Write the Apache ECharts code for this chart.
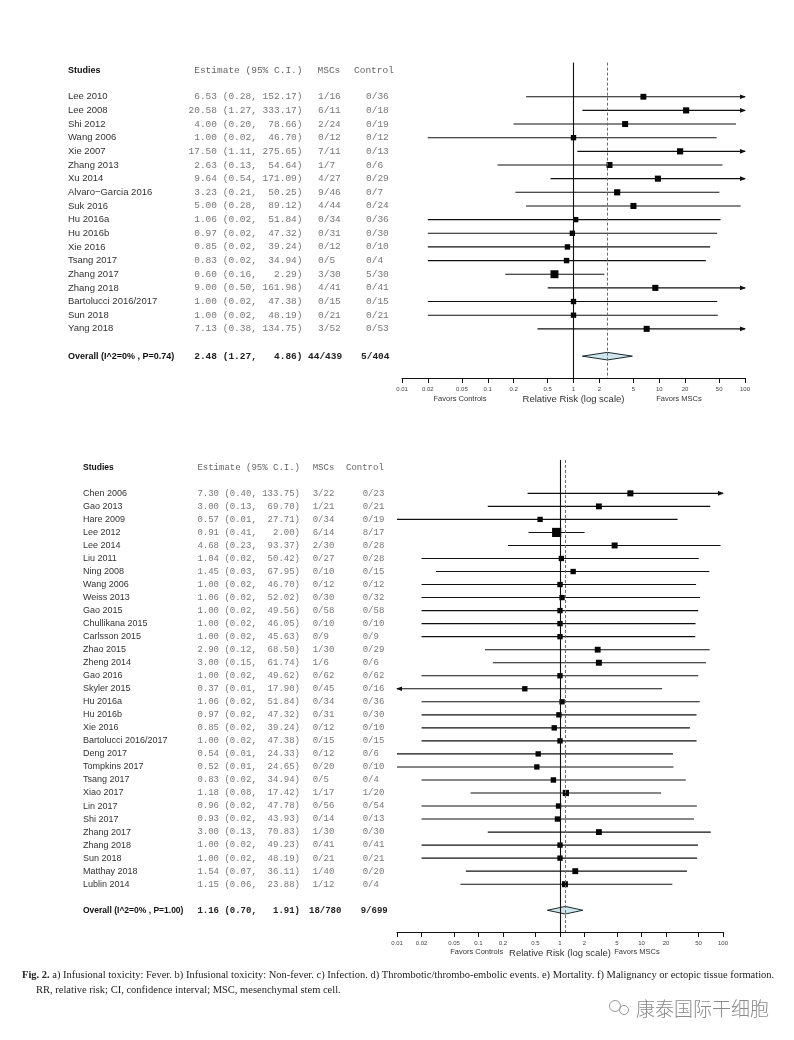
<!DOCTYPE html>
<html><head><meta charset="utf-8">
<script src="https://cdn.jsdelivr.net/npm/echarts@6/dist/echarts.min.js"></script>
<style>html,body{margin:0;padding:0;background:#fff}#c{width:794px;height:1040px}</style>
</head><body><div id="c"></div>
<script>
// ---------- axis ticks ----------
const tickValues = [0.01, 0.02, 0.05, 0.1, 0.2, 0.5, 1, 2, 5, 10, 20, 50, 100];
const tickLabels = ['0.01', '0.02', '0.05', '0.1', '0.2', '0.5', '1', '2', '5', '10', '20', '50', '100'];

// ---------- panel A (top) ----------
const studiesA = ['Lee 2010', 'Lee 2008', 'Shi 2012', 'Wang 2006', 'Xie 2007', 'Zhang 2013', 'Xu 2014', 'Alvaro\u2212Garcia 2016', 'Suk 2016', 'Hu 2016a', 'Hu 2016b', 'Xie 2016', 'Tsang 2017', 'Zhang 2017', 'Zhang 2018', 'Bartolucci 2016/2017', 'Sun 2018', 'Yang 2018'];
const estA = [6.53, 20.58, 4.00, 1.00, 17.50, 2.63, 9.64, 3.23, 5.00, 1.06, 0.97, 0.85, 0.83, 0.60, 9.00, 1.00, 1.00, 7.13];
const lowA = [0.28, 1.27, 0.20, 0.02, 1.11, 0.13, 0.54, 0.21, 0.28, 0.02, 0.02, 0.02, 0.02, 0.16, 0.50, 0.02, 0.02, 0.38];
const upA = [152.17, 333.17, 78.66, 46.70, 275.65, 54.64, 171.09, 50.25, 89.12, 51.84, 47.32, 39.24, 34.94, 2.29, 161.98, 47.38, 48.19, 134.75];
const mscA = ['1/16', '6/11', '2/24', '0/12', '7/11', '1/7', '4/27', '9/46', '4/44', '0/34', '0/31', '0/12', '0/5', '3/30', '4/41', '0/15', '0/21', '3/52'];
const ctrlA = ['0/36', '0/18', '0/19', '0/12', '0/13', '0/6', '0/29', '0/7', '0/24', '0/36', '0/30', '0/10', '0/4', '5/30', '0/41', '0/15', '0/21', '0/53'];
const overallA = { label: 'Overall (I^2=0% , P=0.74)', est: 2.48, low: 1.27, up: 4.86, msc: '44/439', ctrl: '5/404' };

// ---------- panel B (bottom) ----------
const studiesB = ['Chen 2006', 'Gao 2013', 'Hare 2009', 'Lee 2012', 'Lee 2014', 'Liu 2011', 'Ning 2008', 'Wang 2006', 'Weiss 2013', 'Gao 2015', 'Chullikana 2015', 'Carlsson 2015', 'Zhao 2015', 'Zheng 2014', 'Gao 2016', 'Skyler 2015', 'Hu 2016a', 'Hu 2016b', 'Xie 2016', 'Bartolucci 2016/2017', 'Deng 2017', 'Tompkins 2017', 'Tsang 2017', 'Xiao 2017', 'Lin 2017', 'Shi 2017', 'Zhang 2017', 'Zhang 2018', 'Sun 2018', 'Matthay 2018', 'Lublin 2014'];
const estB = [7.30, 3.00, 0.57, 0.91, 4.68, 1.04, 1.45, 1.00, 1.06, 1.00, 1.00, 1.00, 2.90, 3.00, 1.00, 0.37, 1.06, 0.97, 0.85, 1.00, 0.54, 0.52, 0.83, 1.18, 0.96, 0.93, 3.00, 1.00, 1.00, 1.54, 1.15];
const lowB = [0.40, 0.13, 0.01, 0.41, 0.23, 0.02, 0.03, 0.02, 0.02, 0.02, 0.02, 0.02, 0.12, 0.15, 0.02, 0.0076, 0.02, 0.02, 0.02, 0.02, 0.01, 0.01, 0.02, 0.08, 0.02, 0.02, 0.13, 0.02, 0.02, 0.07, 0.06];
const upB = [133.75, 69.70, 27.71, 2.00, 93.37, 50.42, 67.95, 46.70, 52.02, 49.56, 46.05, 45.63, 68.50, 61.74, 49.62, 17.90, 51.84, 47.32, 39.24, 47.38, 24.33, 24.65, 34.94, 17.42, 47.78, 43.93, 70.83, 49.23, 48.19, 36.11, 23.88];
const mscB = ['3/22', '1/21', '0/34', '6/14', '2/30', '0/27', '0/10', '0/12', '0/30', '0/58', '0/10', '0/9', '1/30', '1/6', '0/62', '0/45', '0/34', '0/31', '0/12', '0/15', '0/12', '0/20', '0/5', '1/17', '0/56', '0/14', '1/30', '0/41', '0/21', '1/40', '1/12'];
const ctrlB = ['0/23', '0/21', '0/19', '8/17', '0/28', '0/28', '0/15', '0/12', '0/32', '0/58', '0/10', '0/9', '0/29', '0/6', '0/62', '0/16', '0/36', '0/30', '0/10', '0/15', '0/6', '0/10', '0/4', '1/20', '0/54', '0/13', '0/30', '0/41', '0/21', '0/20', '0/4'];
const overallB = { label: 'Overall (I^2=0% , P=1.00)', est: 1.16, low: 0.70, up: 1.91, msc: '18/780', ctrl: '9/699' };

const headers = { studies: 'Studies', est: 'Estimate (95% C.I.)', msc: 'MSCs', ctrl: 'Control' };
const captionMain = ' a) Infusional toxicity: Fever. b) Infusional toxicity: Non-fever. c) Infection. d) Thrombotic/thrombo-embolic events. e) Mortality. f) Malignancy or ectopic tissue formation.';
const captionLine2 = 'RR, relative risk; CI, confidence interval; MSC, mesenchymal stem cell.';
const watermark = '康泰国际干细胞';

// ---------- helpers ----------
const LOG_MIN = -2, LOG_MAX = 2;
const lg = v => Math.log10(v);
function pad(s, n) { while (s.length < n) s = ' ' + s; return s; }
function fmtEst(e, l, u) { return pad(e.toFixed(2), 5) + ' (' + l.toFixed(2) + ', ' + pad(u.toFixed(2), 6) + ')'; }

const MONO = '"Liberation Mono", "DejaVu Sans Mono", monospace';
const SANS = '"Liberation Sans", Arial, sans-serif';
const SERIF = '"Liberation Serif", serif';

const panels = [
  { studies: studiesA, est: estA, low: lowA, up: upA, msc: mscA, ctrl: ctrlA, overall: overallA,
    grid: { left: 402, width: 343, top: 62.6, height: 315.4 }, yMin: -2.5, yMax: 20.6, hdrRow: -1.9, overallRow: 19,
    lay: { name: 68, estR: 302.5, msc: 318, mscO: 308, ctrl: 366, ctrlO: 361, hdrMsc: 317.5, hdrCtrl: 354, mono: 9.5, sans: 9.5 },
    favors: [460, 679, 399] },
  { studies: studiesB, est: estB, low: lowB, up: upB, msc: mscB, ctrl: ctrlB, overall: overallB,
    grid: { left: 397, width: 326, top: 460, height: 472 }, yMin: -2.56, yMax: 33.67, hdrRow: -2.0, overallRow: 32,
    lay: { name: 83, estR: 300, msc: 312.7, mscO: 309, ctrl: 362.7, ctrlO: 360.7, hdrMsc: 312.7, hdrCtrl: 346, mono: 9, sans: 9 },
    favors: [476.7, 637, 952] }
];

const tickLog = tickValues.map(lg);
function tickLabelOf(v) {
  let best = 0, bd = Infinity;
  tickLog.forEach((t, i) => { const d = Math.abs(t - v); if (d < bd) { bd = d; best = i; } });
  return tickLabels[best];
}

const grids = [], xAxes = [], yAxes = [], series = [], graphics = [];

panels.forEach((P, pi) => {
  grids.push(P.grid);
  xAxes.push({
    type: 'value', gridIndex: pi, min: LOG_MIN, max: LOG_MAX, position: 'bottom',
    name: 'Relative Risk (log scale)', nameLocation: 'middle', nameGap: 16,
    nameTextStyle: { fontFamily: SANS, fontSize: 9.5, color: '#333' },
    axisLine: { show: true, onZero: false, lineStyle: { color: '#111', width: 1 } },
    axisTick: { show: true, inside: false, length: 5, customValues: tickLog, lineStyle: { color: '#111' } },
    axisLabel: { show: true, customValues: tickLog, margin: 8, fontSize: 6, fontFamily: SANS, color: '#444', formatter: v => tickLabelOf(v), hideOverlap: false },
    splitLine: { show: false }
  });
  yAxes.push({ type: 'value', gridIndex: pi, min: P.yMin, max: P.yMax, inverse: true, show: false });

  // study CIs + squares
  const data = P.est.map((e, i) => [lg(e), i, lg(P.low[i]), lg(P.up[i])]);
  series.push({
    type: 'custom', xAxisIndex: pi, yAxisIndex: pi, clip: false, silent: true,
    encode: { x: [0, 2, 3], y: 1 },
    data,
    renderItem: (params, api) => {
      const e = api.value(0), y = api.value(1), l = api.value(2), u = api.value(3);
      const lc = Math.max(l, LOG_MIN), uc = Math.min(u, LOG_MAX);
      const a = api.coord([lc, y]), b = api.coord([uc, y]), c = api.coord([e, y]);
      const se = (u - l) * Math.LN10 / 3.92;
      const s = Math.max(4, 7 + 2.4 * Math.log(1 / se));
      const ch = [
        { type: 'line', shape: { x1: a[0], y1: a[1], x2: b[0], y2: b[1] }, style: { stroke: '#111', lineWidth: 1.1 } },
        { type: 'rect', shape: { x: c[0] - s / 2, y: c[1] - s / 2, width: s, height: s }, style: { fill: '#050505' } }
      ];
      if (u > LOG_MAX) ch.push({ type: 'polygon', shape: { points: [[b[0] + 1, b[1]], [b[0] - 5, b[1] - 2.3], [b[0] - 5, b[1] + 2.3]] }, style: { fill: '#111' } });
      if (l < LOG_MIN) ch.push({ type: 'polygon', shape: { points: [[a[0] - 1, a[1]], [a[0] + 5, a[1] - 2.3], [a[0] + 5, a[1] + 2.3]] }, style: { fill: '#111' } });
      return { type: 'group', children: ch };
    },
    markLine: {
      silent: true, symbol: 'none', label: { show: false }, animation: false,
      data: [
        { xAxis: 0, lineStyle: { color: '#111', width: 1.1, type: 'solid' } },
        { xAxis: lg(P.overall.est), lineStyle: { color: '#a3574c', width: 1, type: [3, 2] } }
      ]
    }
  });

  // overall diamond
  series.push({
    type: 'custom', xAxisIndex: pi, yAxisIndex: pi, clip: false, silent: true,
    encode: { x: [0, 2, 3], y: 1 },
    data: [[lg(P.overall.est), P.overallRow, lg(P.overall.low), lg(P.overall.up)]],
    renderItem: (params, api) => {
      const e = api.value(0), y = api.value(1), l = api.value(2), u = api.value(3);
      const a = api.coord([l, y]), b = api.coord([u, y]), c = api.coord([e, y]);
      const h = 3.8;
      return { type: 'polygon', shape: { points: [[a[0], a[1]], [c[0], c[1] - h], [b[0], b[1]], [c[0], c[1] + h]] },
        style: { fill: '#cfe6ec', stroke: '#1a2a2a', lineWidth: 1 } };
    }
  });

  // table text
  const L = P.lay;
  const rows = [{ kind: 'hdr', row: P.hdrRow }]
    .concat(P.studies.map((s, i) => ({ kind: 'study', row: i, i })))
    .concat([{ kind: 'overall', row: P.overallRow }]);
  series.push({
    type: 'custom', xAxisIndex: pi, yAxisIndex: pi, clip: false, silent: true,
    encode: { x: 0, y: 1 },
    data: rows.map(r => [0, r.row]),
    renderItem: (params, api) => {
      const r = rows[params.dataIndex];
      const y = api.coord([0, api.value(1)])[1];
      const t = (x, text, font, fill, align) => ({ type: 'text', style: { x, y, text, font, fill, align: align || 'left', verticalAlign: 'middle' } });
      const mono = L.mono + 'px ' + MONO, monoB = 'bold ' + L.mono + 'px ' + MONO;
      const sans = L.sans + 'px ' + SANS, sansB = 'bold ' + (L.sans - 0.5) + 'px ' + SANS;
      let ch;
      if (r.kind === 'hdr') {
        ch = [t(L.name, headers.studies, sansB, '#111'), t(L.estR, headers.est, mono, '#666', 'right'),
              t(L.hdrMsc, headers.msc, mono, '#666'), t(L.hdrCtrl, headers.ctrl, mono, '#666')];
      } else if (r.kind === 'study') {
        const i = r.i;
        ch = [t(L.name, P.studies[i], sans, '#333'), t(L.estR, fmtEst(P.est[i], P.low[i], P.up[i]), mono, '#777', 'right'),
              t(L.msc, P.msc[i], mono, '#777'), t(L.ctrl, P.ctrl[i], mono, '#777')];
      } else {
        const o = P.overall;
        ch = [t(L.name, o.label, sansB, '#111'), t(L.estR, fmtEst(o.est, o.low, o.up), monoB, '#222', 'right'),
              t(L.mscO, o.msc, monoB, '#222'), t(L.ctrlO, o.ctrl, monoB, '#222')];
      }
      return { type: 'group', children: ch };
    }
  });

  graphics.push({ type: 'text', x: P.favors[0], y: P.favors[2], style: { text: 'Favors Controls', font: '7.5px ' + SANS, fill: '#333', align: 'center', verticalAlign: 'middle' } });
  graphics.push({ type: 'text', x: P.favors[1], y: P.favors[2], style: { text: 'Favors MSCs', font: '7.5px ' + SANS, fill: '#333', align: 'center', verticalAlign: 'middle' } });
});

// caption
graphics.push({ type: 'text', x: 22, y: 975, style: { text: '{b|Fig. 2.}' + captionMain, font: '10.5px ' + SERIF, fill: '#222', verticalAlign: 'middle',
  rich: { b: { font: 'bold 10.5px ' + SERIF, fill: '#222' } } } });
graphics.push({ type: 'text', x: 36, y: 990, style: { text: captionLine2, font: '10.5px ' + SERIF, fill: '#222', verticalAlign: 'middle' } });
// watermark
graphics.push({ type: 'circle', shape: { cx: 615, cy: 1006, r: 5.5 }, style: { fill: 'none', stroke: '#9a9a9a', lineWidth: 1 } });
graphics.push({ type: 'circle', shape: { cx: 624, cy: 1010, r: 4.5 }, style: { fill: 'none', stroke: '#9a9a9a', lineWidth: 1 } });
graphics.push({ type: 'text', x: 636, y: 1009, style: { text: watermark, font: '300 19px "Noto Sans CJK SC", sans-serif', fill: '#8a8a8a', verticalAlign: 'middle' } });

const chart = echarts.init(document.getElementById('c'), null, { renderer: 'canvas' });
chart.setOption({
  backgroundColor: '#ffffff',
  animation: false,
  grid: grids, xAxis: xAxes, yAxis: yAxes, series, graphic: graphics
});
</script></body></html>
